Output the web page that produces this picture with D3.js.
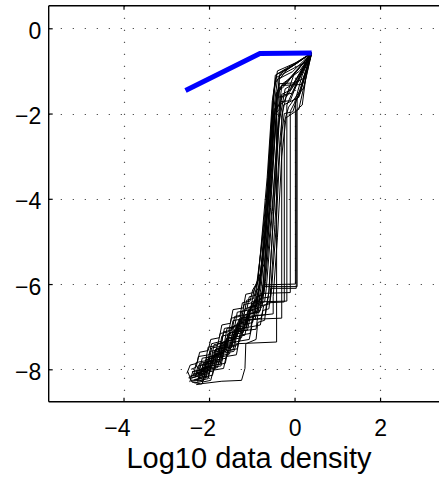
<!DOCTYPE html>
<html>
<head>
<meta charset="utf-8">
<script src="https://cdn.jsdelivr.net/npm/d3@7"></script>
<style>
  html, body { margin: 0; padding: 0; background: #fff; }
  svg { display: block; }
  text { font-family: "Liberation Sans", Arial, Helvetica, sans-serif; fill: #000; }
</style>
</head>
<body>
<svg id="chart" width="439" height="478"></svg>
<script>
// ---- data ----
const xTicks = [-4, -2, 0, 2];
const xTickLabels = ["\u22124", "\u22122", "0", "2"];
const yTicks = [0, -2, -4, -6, -8];
const yTickLabels = ["0", "\u22122", "\u22124", "\u22126", "\u22128"];
const xLabel = "Log10 data density";

const blueLine = [[-2.55, -1.46], [-0.81, -0.59], [0.40, -0.58]];

const t01 = [[-2.45,-8.30],[-2.38,-8.05],[-2.10,-8.00],[-2.05,-7.72],[-1.78,-7.68],[-1.72,-7.38],[-1.48,-7.32],[-1.42,-6.98],[-1.22,-6.92],[-1.16,-6.58],[-0.96,-6.52],[-0.90,-6.18],[-0.82,-6.05],[-0.66,-4.10],[-0.54,-2.20],[-0.45,-1.10],[-0.12,-0.92],[0.40,-0.58]];
const t02 = [[-2.40,-8.20],[-2.26,-8.16],[-2.20,-7.90],[-1.96,-7.86],[-1.90,-7.60],[-1.62,-7.55],[-1.56,-7.22],[-1.32,-7.16],[-1.26,-6.82],[-1.06,-6.76],[-1.00,-6.42],[-0.86,-6.36],[-0.80,-6.00],[-0.60,-3.90],[-0.48,-1.85],[-0.40,-1.20],[-0.05,-1.02],[0.40,-0.58]];
const t03 = [[-2.32,-8.18],[-2.12,-8.12],[-2.06,-7.82],[-1.82,-7.76],[-1.76,-7.46],[-1.46,-7.42],[-1.40,-7.06],[-1.12,-7.02],[-1.06,-6.70],[-0.82,-6.66],[-0.76,-6.34],[-0.72,-6.06],[0.06,-6.06],[0.06,-1.62],[0.22,-1.38],[0.40,-0.58]];
const t04 = [[-2.22,-8.26],[-2.02,-8.22],[-1.96,-7.96],[-1.72,-7.92],[-1.66,-7.62],[-1.42,-7.58],[-1.36,-7.40],[-0.42,-7.36],[-0.42,-1.62],[-0.28,-1.30],[0.12,-1.00],[0.40,-0.58]];
const t05 = [[-2.36,-8.10],[-2.14,-8.06],[-2.08,-7.78],[-1.86,-7.72],[-1.80,-7.40],[-1.56,-7.36],[-1.50,-7.02],[-1.30,-6.96],[-1.24,-6.64],[-1.02,-6.60],[-0.96,-6.42],[-0.18,-6.40],[-0.18,-1.80],[-0.05,-1.50],[0.25,-0.82],[0.40,-0.58]];
const t06 = [[-2.42,-8.00],[-2.30,-7.95],[-2.25,-7.70],[-2.00,-7.66],[-1.94,-7.40],[-1.70,-7.34],[-1.64,-7.04],[-1.40,-7.00],[-1.34,-6.66],[-1.12,-6.62],[-1.06,-6.30],[-0.90,-6.26],[-0.86,-5.90],[-0.62,-3.60],[-0.50,-1.60],[-0.42,-1.08],[0.40,-0.58]];
const t07 = [[-2.28,-8.28],[-2.10,-8.24],[-2.04,-8.00],[-1.80,-7.96],[-1.74,-7.68],[-1.52,-7.64],[-1.46,-7.30],[-1.24,-7.26],[-1.18,-6.96],[-0.98,-6.90],[-0.92,-6.58],[-0.76,-6.54],[-0.72,-6.20],[-0.56,-4.20],[-0.44,-2.30],[-0.36,-1.40],[-0.20,-1.30],[0.40,-0.58]];
const t08 = [[-2.50,-8.05],[-2.40,-8.30],[-2.20,-8.34],[-1.70,-8.28],[-1.24,-8.26],[-1.16,-7.98],[-1.14,-7.40],[-0.90,-7.30],[-0.86,-6.90],[-0.70,-6.85],[-0.66,-6.50],[-0.60,-6.20],[-0.50,-4.50],[-0.38,-2.40],[-0.30,-1.55],[-0.10,-1.45],[0.40,-0.58]];
const t09 = [[-2.38,-8.12],[-2.18,-8.08],[-2.12,-7.84],[-1.90,-7.80],[-1.84,-7.52],[-1.58,-7.48],[-1.52,-7.14],[-1.28,-7.10],[-1.22,-6.74],[-1.00,-6.70],[-0.94,-6.40],[-0.78,-6.36],[-0.74,-6.08],[-0.58,-4.00],[-0.46,-2.00],[-0.36,-1.30],[0.00,-1.28],[0.40,-0.58]];
const t10 = [[-2.26,-8.20],[-2.06,-8.16],[-2.00,-7.88],[-1.76,-7.84],[-1.70,-7.56],[-1.48,-7.50],[-1.42,-7.18],[-1.20,-7.14],[-1.14,-6.80],[-0.94,-6.76],[-0.88,-6.46],[-0.70,-6.42],[-0.66,-6.10],[-0.52,-4.30],[-0.40,-2.50],[-0.32,-1.72],[-0.10,-1.70],[0.05,-1.30],[0.40,-0.58]];
const t11 = [[-2.34,-8.24],[-2.16,-8.20],[-2.10,-7.94],[-1.88,-7.90],[-1.82,-7.62],[-1.60,-7.58],[-1.54,-7.26],[-1.34,-7.22],[-1.28,-6.88],[-1.08,-6.84],[-1.02,-6.52],[-0.80,-6.48],[-0.74,-6.02],[0.02,-6.00],[0.02,-1.72],[0.12,-1.55],[0.40,-0.58]];
const t12 = [[-2.44,-8.16],[-2.28,-8.12],[-2.22,-7.86],[-2.00,-7.82],[-1.94,-7.50],[-1.72,-7.46],[-1.66,-7.12],[-1.46,-7.08],[-1.40,-6.76],[-1.18,-6.72],[-1.12,-6.38],[-0.96,-6.34],[-0.90,-6.12],[-0.68,-4.40],[-0.55,-2.40],[-0.46,-1.30],[-0.30,-1.05],[0.40,-0.58]];
const t13 = [[-2.30,-8.08],[-2.08,-8.04],[-2.02,-7.76],[-1.78,-7.72],[-1.72,-7.44],[-1.50,-7.40],[-1.44,-7.10],[-1.22,-7.06],[-1.16,-6.72],[-0.96,-6.68],[-0.90,-6.30],[-0.74,-6.26],[-0.70,-5.96],[-0.54,-3.70],[-0.42,-1.90],[-0.26,-1.56],[-0.04,-1.52],[0.40,-0.58]];
const t14 = [[-2.20,-8.14],[-2.00,-8.10],[-1.94,-7.84],[-1.70,-7.80],[-1.64,-7.50],[-1.40,-7.46],[-1.34,-7.12],[-1.10,-7.08],[-1.04,-6.78],[-0.86,-6.74],[-0.80,-6.22],[-0.10,-6.20],[-0.10,-1.95],[0.00,-1.75],[0.18,-1.10],[0.40,-0.58]];
const t15 = [[-2.36,-8.26],[-2.20,-8.22],[-2.14,-7.96],[-1.92,-7.92],[-1.86,-7.64],[-1.66,-7.60],[-1.60,-7.30],[-1.38,-7.26],[-1.32,-6.94],[-1.10,-6.90],[-1.04,-6.56],[-0.88,-6.52],[-0.84,-6.16],[-0.64,-4.30],[-0.50,-2.30],[-0.40,-1.45],[-0.16,-1.22],[0.40,-0.58]];
const t16 = [[-2.16,-8.30],[-1.96,-8.26],[-1.90,-8.02],[-1.66,-7.98],[-1.60,-7.70],[-1.36,-7.66],[-1.30,-7.34],[-1.06,-7.30],[-1.00,-7.00],[-0.80,-6.96],[-0.74,-6.62],[-0.60,-6.58],[-0.56,-6.24],[-0.46,-4.60],[-0.34,-2.60],[-0.26,-1.80],[0.10,-1.62],[0.40,-0.58]];
const t17 = [[-2.40,-8.06],[-2.22,-8.02],[-2.16,-7.74],[-1.94,-7.70],[-1.88,-7.42],[-1.64,-7.38],[-1.58,-7.04],[-1.36,-7.00],[-1.30,-6.84],[-0.30,-6.80],[-0.30,-2.05],[-0.20,-1.62],[0.08,-1.20],[0.40,-0.58]];
const t18 = [[-2.46,-8.22],[-2.32,-8.18],[-2.26,-7.92],[-2.04,-7.88],[-1.98,-7.58],[-1.76,-7.54],[-1.70,-7.22],[-1.50,-7.18],[-1.44,-6.86],[-1.24,-6.82],[-1.18,-6.48],[-1.00,-6.44],[-0.94,-6.10],[-0.86,-5.98],[-0.64,-3.50],[-0.52,-1.70],[-0.44,-1.16],[0.28,-0.78],[0.40,-0.58]];
const t19 = [[-2.24,-8.02],[-2.04,-7.98],[-1.98,-7.70],[-1.74,-7.66],[-1.68,-7.36],[-1.44,-7.32],[-1.38,-7.02],[-1.16,-6.98],[-1.10,-6.64],[-0.92,-6.60],[-0.86,-6.28],[-0.72,-6.24],[-0.68,-5.94],[-0.50,-3.90],[-0.38,-2.10],[-0.30,-1.34],[0.16,-1.32],[0.40,-0.58]];
const t20 = [[-2.34,-8.32],[-2.14,-8.28],[-2.08,-8.04],[-1.86,-8.00],[-1.80,-7.72],[-1.56,-7.68],[-1.50,-7.38],[-1.28,-7.34],[-1.22,-7.04],[-1.02,-7.00],[-0.96,-6.66],[-0.80,-6.62],[-0.76,-6.30],[-0.62,-4.60],[-0.48,-2.70],[-0.40,-1.62],[-0.20,-1.58],[0.40,-0.58]];
const t21 = [[-2.18,-8.04],[-2.00,-8.00],[-1.94,-7.72],[-1.72,-7.68],[-1.66,-7.40],[-1.42,-7.36],[-1.36,-7.06],[-1.14,-7.02],[-1.08,-6.70],[-0.88,-6.66],[-0.82,-6.34],[-0.56,-6.30],[-0.56,-6.10],[0.04,-6.10],[0.04,-1.92],[0.18,-1.80],[0.30,-0.86],[0.40,-0.58]];
const t22 = [[-2.42,-8.26],[-2.26,-8.24],[-2.20,-8.00],[-1.98,-7.96],[-1.92,-7.68],[-1.68,-7.64],[-1.62,-7.34],[-1.40,-7.30],[-1.34,-6.98],[-1.14,-6.94],[-1.08,-6.62],[-0.92,-6.58],[-0.88,-6.26],[-0.82,-6.10],[-0.60,-4.00],[-0.50,-2.40],[-0.42,-1.50],[-0.28,-1.40],[0.40,-0.58]];
const t23 = [[-2.12,-8.18],[-1.92,-8.14],[-1.86,-7.90],[-1.62,-7.86],[-1.56,-7.56],[-1.34,-7.52],[-1.28,-7.20],[-1.04,-7.16],[-0.98,-6.84],[-0.78,-6.80],[-0.72,-6.50],[-0.58,-6.46],[-0.54,-6.16],[-0.44,-4.80],[-0.34,-2.80],[-0.24,-2.00],[-0.04,-1.96],[0.40,-0.58]];
const t24 = [[-2.38,-8.16],[-2.20,-8.12],[-2.14,-7.88],[-1.92,-7.84],[-1.86,-7.54],[-1.62,-7.50],[-1.56,-7.16],[-1.34,-7.12],[-1.28,-6.80],[-1.06,-6.76],[-1.00,-6.46],[-0.84,-6.42],[-0.78,-6.06],[-0.60,-3.90],[-0.46,-2.00],[-0.34,-1.05],[0.00,-0.86],[0.40,-0.58]];
const t25 = [[-2.52,-8.10],[-2.44,-7.90],[-2.28,-7.86],[-2.22,-7.60],[-2.02,-7.56],[-1.96,-7.30],[-1.76,-7.26],[-1.70,-6.96],[-1.50,-6.92],[-1.44,-6.60],[-1.20,-6.56],[-1.14,-6.24],[-0.96,-6.20],[-0.90,-6.00],[-0.70,-5.50],[-0.58,-3.20],[-0.48,-1.50],[-0.40,-1.00],[0.05,-0.80],[0.40,-0.58]];
const t26 = [[-2.30,-8.36],[-2.16,-8.34],[-2.10,-8.08],[-1.90,-8.04],[-1.84,-7.78],[-1.60,-7.74],[-1.54,-7.46],[-1.32,-7.42],[-1.26,-7.10],[-0.90,-7.06],[-0.86,-6.74],[-0.50,-6.70],[-0.50,-6.30],[-0.40,-4.90],[-0.30,-3.00],[-0.20,-2.10],[0.10,-1.90],[0.30,-1.00],[0.40,-0.58]];
const t27 = [[-2.48,-8.20],[-2.36,-8.14],[-2.30,-7.84],[-2.08,-7.80],[-2.02,-7.48],[-1.80,-7.44],[-1.74,-7.16],[-1.54,-7.12],[-1.48,-6.80],[-1.28,-6.76],[-1.22,-6.44],[-1.04,-6.40],[-0.98,-6.14],[-0.78,-5.80],[-0.62,-3.80],[-0.52,-2.10],[-0.36,-1.90],[-0.36,-1.20],[-0.18,-0.98],[0.40,-0.58]];
const t28 = [[-2.26,-8.12],[-2.06,-8.08],[-2.00,-7.82],[-1.76,-7.78],[-1.70,-7.48],[-1.46,-7.44],[-1.40,-7.12],[-1.18,-7.08],[-1.12,-6.76],[-0.68,-6.72],[-0.64,-6.44],[-0.24,-6.42],[-0.24,-2.20],[-0.14,-1.85],[0.14,-1.45],[0.40,-0.58]];
const t29 = [[-2.40,-8.28],[-2.24,-8.26],[-2.18,-7.98],[-1.94,-7.94],[-1.88,-7.66],[-1.66,-7.62],[-1.60,-7.28],[-1.40,-7.24],[-1.34,-6.92],[-1.12,-6.88],[-1.06,-6.54],[-0.90,-6.50],[-0.86,-6.20],[-0.66,-4.70],[-0.56,-2.80],[-0.48,-1.90],[-0.24,-1.72],[-0.02,-1.10],[0.40,-0.58]];
const t30 = [[-2.20,-8.22],[-2.02,-8.18],[-1.96,-7.92],[-1.74,-7.88],[-1.68,-7.58],[-1.44,-7.54],[-1.38,-7.24],[-1.16,-7.20],[-1.10,-6.86],[-0.92,-6.82],[-0.86,-6.52],[-0.64,-6.48],[-0.60,-6.16],[-0.48,-4.20],[-0.36,-2.20],[-0.22,-1.42],[0.20,-1.18],[0.40,-0.58]];
const traces = [t01,t02,t03,t04,t05,t06,t07,t08,t09,t10,t11,t12,t13,t14,t15,t16,t17,t18,t19,t20,t21,t22,t23,t24,t25,t26,t27,t28,t29,t30];

// ---- layout ----
const plotLeft = 48.7, plotRight = 444.2, plotTop = 5.7, plotBottom = 401.7;
const x = d3.scaleLinear().domain([-5.75, 3.5]).range([plotLeft, plotRight]);
const y = d3.scaleLinear().domain([0.53, -8.76]).range([plotTop, plotBottom]);

const svg = d3.select("#chart");

// grid
const grid = svg.append("g").attr("stroke", "#555").attr("stroke-width", 1.2)
  .attr("stroke-dasharray", "1.3 10.7").attr("fill", "none");
grid.selectAll("line.vx").data(xTicks).join("line")
  .attr("x1", d => Math.round(x(d)) + 0.5).attr("x2", d => Math.round(x(d)) + 0.5)
  .attr("y1", plotTop).attr("y2", plotBottom);
grid.selectAll("line.hy").data(yTicks).join("line")
  .attr("y1", d => Math.round(y(d)) + 0.5).attr("y2", d => Math.round(y(d)) + 0.5)
  .attr("x1", plotLeft).attr("x2", plotRight);

// black traces
const line = d3.line().x(d => x(d[0])).y(d => y(d[1]));
svg.append("g").selectAll("path").data(traces).join("path")
  .attr("d", line).attr("fill", "none").attr("stroke", "#000")
  .attr("stroke-width", 1).attr("stroke-linejoin", "miter");

// blue line
svg.append("path").datum(blueLine).attr("d", line)
  .attr("fill", "none").attr("stroke", "#0000ff").attr("stroke-width", 5)
  .attr("stroke-linejoin", "miter").attr("stroke-linecap", "butt");

// axes
const xAxisB = d3.axisBottom(x).tickValues(xTicks).tickSize(-4).tickFormat((d, i) => xTickLabels[i]);
const gxb = svg.append("g").attr("transform", `translate(0,${plotBottom})`).call(xAxisB);
const xAxisT = d3.axisTop(x).tickValues(xTicks).tickSize(-4).tickFormat("");
const gxt = svg.append("g").attr("transform", `translate(0,${plotTop})`).call(xAxisT);
const yAxisL = d3.axisLeft(y).tickValues(yTicks).tickSize(-4).tickFormat((d, i) => yTickLabels[i]);
const gyl = svg.append("g").attr("transform", `translate(${plotLeft},0)`).call(yAxisL);

[gxb, gxt, gyl].forEach(g => {
  g.select(".domain").attr("stroke", "#000").attr("stroke-width", 1.4);
  g.selectAll(".tick line").attr("stroke", "#000").attr("stroke-width", 1.2);
});
gxb.select(".domain").attr("d", `M${plotLeft},0H${plotRight}`);
gxt.select(".domain").attr("d", `M${plotLeft},0H${plotRight}`);
gyl.select(".domain").attr("d", `M0,0V${plotBottom - plotTop}`).attr("transform", `translate(0,${plotTop})`);

gxb.selectAll(".tick text")
  .attr("font-size", 23).attr("font-family", '"Liberation Sans", Arial, sans-serif')
  .attr("fill", "#000").attr("text-anchor", "end")
  .attr("dy", null).attr("x", 6.5).attr("y", 34.3);
gyl.selectAll(".tick text")
  .attr("font-size", 23).attr("font-family", '"Liberation Sans", Arial, sans-serif')
  .attr("fill", "#000").attr("text-anchor", "end")
  .attr("dy", null).attr("x", -7.5).attr("y", 10);

svg.append("text").attr("x", 249).attr("y", 468.3)
  .attr("text-anchor", "middle").attr("font-size", 29).text(xLabel);
</script>
</body>
</html>
